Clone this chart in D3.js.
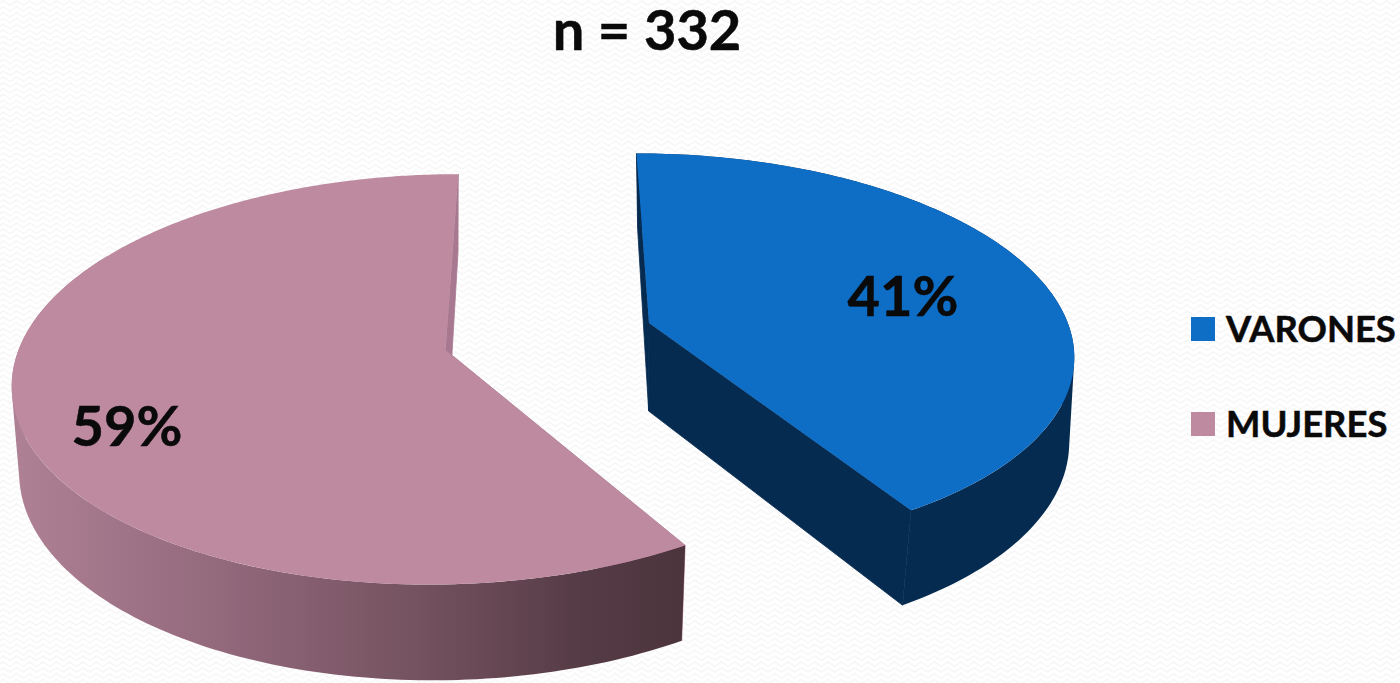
<!DOCTYPE html>
<html>
<head>
<meta charset="utf-8">
<script src="https://cdn.jsdelivr.net/npm/d3@7"></script>
<style>
html,body{margin:0;padding:0;background:#fff;overflow:hidden}
svg{display:block}
text{font-family:Lato,"Open Sans",sans-serif;font-weight:700;fill:#0a0a0a;stroke:#0a0a0a;stroke-width:0.5px}
</style>
</head>
<body>
<script>
const categories = ["VARONES", "MUJERES"];
const counts = [137, 195];
const sliceLabels = ["41%", "59%"];
const titleText = "n = 332";
const topColors = ["#0e6ec5", "#be8aa0"];

const W = 1400, H = 683;
const svg = d3.select("body").append("svg").attr("width", W).attr("height", H);
const defs = svg.append("defs");

// faint woven background
const pat = defs.append("pattern").attr("id", "wave").attr("patternUnits", "userSpaceOnUse")
  .attr("width", 13.3).attr("height", 11.7);
pat.append("path").attr("d", "M0 3 L3.3 0.8 L6.65 3 L10 5.2 L13.3 3 M0 9 L3.3 6.8 L6.65 9 L10 11.2 L13.3 9")
  .attr("fill", "none").attr("stroke", "#f5f5f5").attr("stroke-width", 1.4);
svg.append("rect").attr("width", W).attr("height", H).attr("fill", "#fff");
svg.append("rect").attr("width", W).attr("height", H).attr("fill", "url(#wave)");

// perspective projection of the pie's top and bottom planes
const cam = {x0: 547, y0: 350, A: 427, B: 201, k: 0.143, depth: 90, kLow: 0.125, cLow: 0.006, xPivot: 650, xScaleLow: 0.996};
function project(X, Y, low) {
  const w = low ? 1 - cam.kLow * Y + cam.cLow : 1 - cam.k * Y;
  const x = cam.x0 + cam.A * X / w;
  return [low ? cam.xPivot + (x - cam.xPivot) * cam.xScaleLow : x,
          cam.y0 + (cam.B * Y + (low ? cam.depth : 0)) / w];
}
const centers = [{X: 0.2436, Y: -0.137}, {X: -0.2377, Y: 0}];
const pieData = d3.pie().sort(null)(counts);
const line = d3.line();
const wallLimit = 300 * Math.PI / 180;
const wallStep = 0.02;

function rimPoint(c, a, low) {
  return project(c.X + Math.sin(a), c.Y - Math.cos(a), low);
}
function rim(c, a0, a1, low) {
  const n = Math.max(2, Math.ceil((a1 - a0) / 0.01));
  return d3.range(n + 1).map(i => rimPoint(c, a0 + (a1 - a0) * i / n, low));
}
const hub = (c, low) => project(c.X, c.Y, low);

const grad = defs.append("linearGradient").attr("id", "mujWall").attr("gradientUnits", "userSpaceOnUse")
  .attr("x1", 20).attr("x2", 684).attr("y1", 0).attr("y2", 0);
[[0, "#ae8094"], [0.3, "#93697c"], [0.6, "#74525f"], [0.85, "#553b45"], [1, "#4c343d"]]
  .forEach(s => grad.append("stop").attr("offset", s[0]).attr("stop-color", s[1]));

const sideFill = ["#062b50", "url(#mujWall)"];
const faceFill = ["#062b50", "#a87890"];
const facesInFront = [true, false];

const g = svg.append("g");
pieData.forEach((d, i) => {
  const c = centers[i], s = g.append("g").attr("class", "slice");
  const drawFaces = () => [d.startAngle, d.endAngle].forEach(a => {
    s.append("path")
      .attr("d", line([hub(c, false), rimPoint(c, a, false), rimPoint(c, a, true), hub(c, true)]) + "Z")
      .attr("fill", faceFill[i]).attr("stroke", faceFill[i]).attr("stroke-width", 0.8);
  });
  if (!facesInFront[i]) drawFaces();
  // outer wall: one path of thin quads wound the same way, so its silhouette stays straight
  const wallEnd = Math.min(d.endAngle, wallLimit);
  const steps = Math.ceil((wallEnd - d.startAngle) / wallStep);
  const wallPath = d3.range(steps).map(j => {
    const a0 = d.startAngle + (wallEnd - d.startAngle) * j / steps;
    const a1 = d.startAngle + (wallEnd - d.startAngle) * (j + 1) / steps;
    const quad = [rimPoint(c, a0, false), rimPoint(c, a1, false), rimPoint(c, a1, true), rimPoint(c, a0, true)];
    if (d3.polygonArea(quad) < 0) quad.reverse();
    return line(quad) + "Z";
  }).join("");
  s.append("path").attr("d", wallPath).attr("fill-rule", "nonzero").attr("fill", sideFill[i]);
  if (facesInFront[i]) drawFaces();
  s.append("path")
    .attr("d", line([hub(c, false)].concat(rim(c, d.startAngle, d.endAngle, false))) + "Z")
    .attr("fill", topColors[i]);
});

// title and slice labels
svg.append("text").attr("x", 647).attr("y", 50).attr("text-anchor", "middle").attr("font-size", 56).text(titleText);
const labelPos = [[903, 316], [127, 446]];
sliceLabels.forEach((t, i) => svg.append("text").attr("x", labelPos[i][0]).attr("y", labelPos[i][1])
  .attr("text-anchor", "middle").attr("font-size", 56).text(t));

// legend
const legendY = d3.scalePoint().domain(categories).range([329, 424]);
const legend = svg.append("g").selectAll("g").data(categories).join("g");
legend.append("rect").attr("x", 1191).attr("y", d => legendY(d) - 12).attr("width", 24).attr("height", 24)
  .attr("fill", (d, i) => topColors[i]);
legend.append("text").attr("x", 1226).attr("y", d => legendY(d) + 13).attr("font-size", 36.4).text(d => d);
</script>
</body>
</html>
